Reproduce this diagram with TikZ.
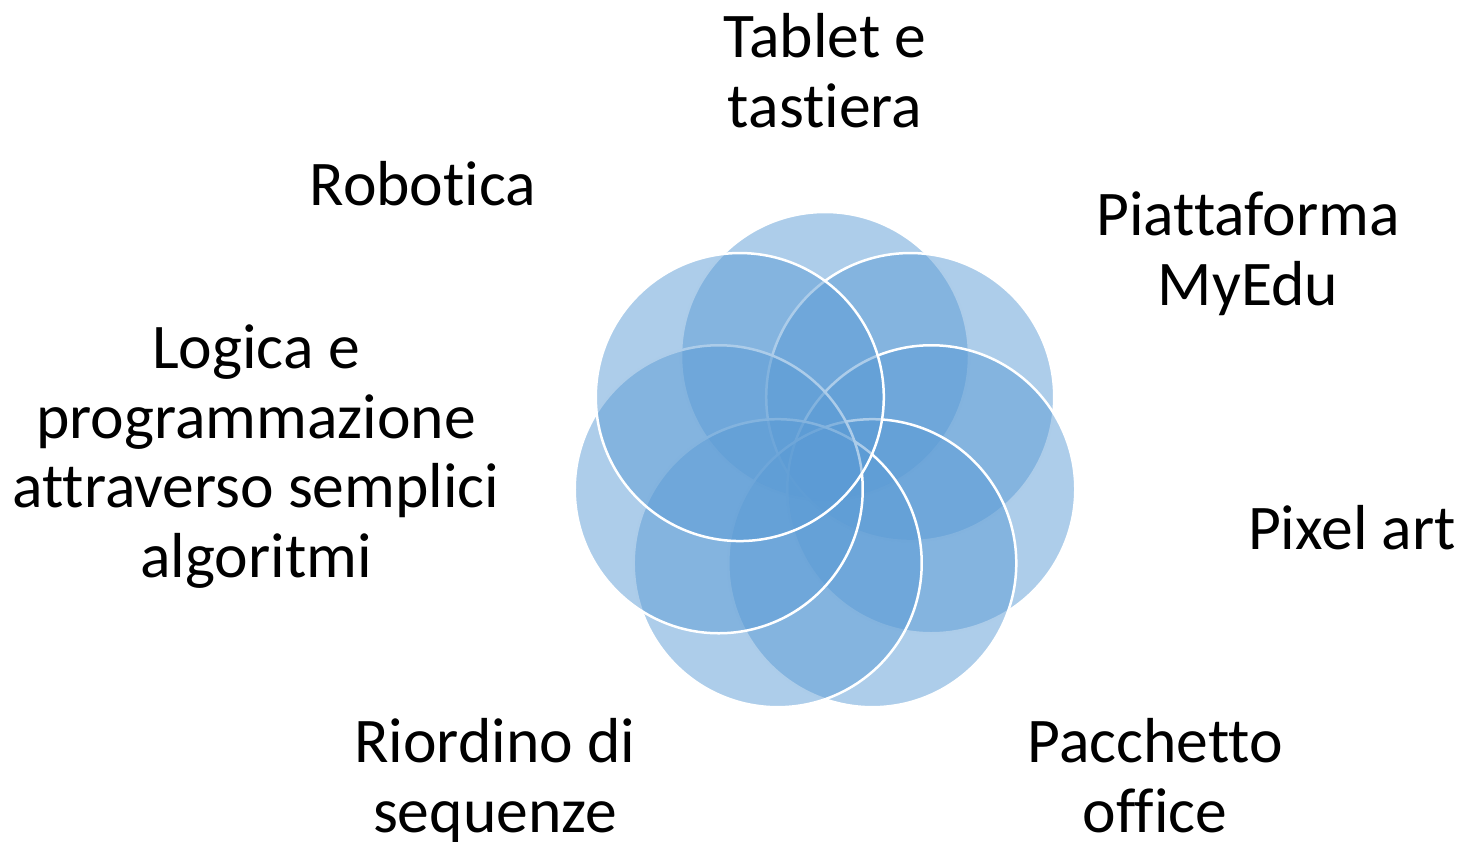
\documentclass[tikz,border=0pt]{standalone}
\usepackage{fontspec}
\setmainfont{Carlito}[Ligatures=CommonOff]
\definecolor{petalblue}{HTML}{5B9BD5}
\begin{document}
\begin{tikzpicture}[x=1pt,y=-1pt,
  petal/.style={fill=petalblue,fill opacity=0.5,draw=white,draw opacity=1,line width=2.5pt},
  lbl/.style={align=center,anchor=base,inner sep=0pt,font=\fontsize{63.6}{69.5}\selectfont}]
\useasboundingbox (0,0) rectangle (1459,841);
\coordinate (C) at (825,465);
\foreach \i in {0,...,6}
  \draw[petal] (C) ++(-90+\i*360/7:109) circle[radius=144pt];
\node[lbl] (tablet) at (825,127) {Tablet e\\tastiera};
\node[lbl] (robot) at (423,205) {Robotica};
\node[lbl] (piatt) at (1248,305) {Piattaforma\\MyEdu};
\node[lbl] (logica) at (256,577) {Logica e\\programmazione\\attraverso semplici\\algoritmi};
\node[lbl] (pixel) at (1352,549) {Pixel art};
\node[lbl] (riord) at (495,832) {Riordino di\\sequenze};
\node[lbl] (pacch) at (1155,832) {Pacchetto\\office};
\end{tikzpicture}
\end{document}
